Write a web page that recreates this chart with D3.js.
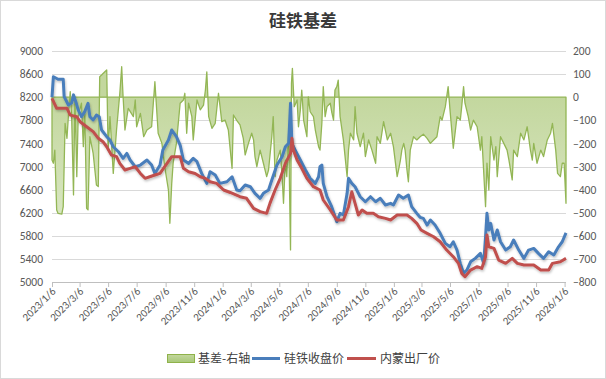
<!DOCTYPE html>
<html><head><meta charset="utf-8">
<script src="https://cdn.jsdelivr.net/npm/d3@7"></script>
<style>body{margin:0;background:#fff}svg{display:block}</style>
</head><body><svg id="c" width="606" height="379"></svg>
<script>
const title = "硅铁基差";
const seriesNames = ["基差-右轴", "硅铁收盘价", "内蒙出厂价"];
const leftTicks = [5000,5400,5800,6200,6600,7000,7400,7800,8200,8600,9000];
const rightTicks = [-800,-700,-600,-500,-400,-300,-200,-100,0,100,200];
const xTickLabels = ["2023/1/6","2023/3/6","2023/5/6","2023/7/6","2023/9/6","2023/11/6","2024/1/6","2024/3/6","2024/5/6","2024/7/6","2024/9/6","2024/11/6","2025/1/6","2025/3/6","2025/5/6","2025/7/6","2025/9/6","2025/11/6","2026/1/6"];

const closePrice = [["2023-01-06",8200],["2023-01-09",8555],["2023-01-19",8510],["2023-01-30",8510],["2023-02-01",8210],["2023-02-10",8065],["2023-02-17",8100],["2023-02-21",8240],["2023-02-27",8094],["2023-03-03",7980],["2023-03-10",7862],["2023-03-17",7950],["2023-03-24",8094],["2023-03-28",7862],["2023-04-04",7805],["2023-04-11",7890],["2023-04-17",7860],["2023-04-22",7632],["2023-05-03",7516],["2023-05-10",7458],["2023-05-17",7342],["2023-05-28",7256],["2023-06-07",7141],["2023-06-15",7228],["2023-06-22",7112],["2023-07-03",6996],["2023-07-14",7025],["2023-07-28",7112],["2023-08-07",7025],["2023-08-14",6880],["2023-08-25",7025],["2023-08-31",7285],["2023-09-12",7458],["2023-09-19",7632],["2023-09-29",7516],["2023-10-07",7372],["2023-10-14",7112],["2023-10-25",7054],["2023-11-04",7141],["2023-11-12",7083],["2023-11-22",6880],["2023-12-03",6708],["2023-12-10",6910],["2023-12-21",6852],["2023-12-31",6708],["2024-01-15",6736],["2024-01-26",6823],["2024-02-05",6593],["2024-02-12",6580],["2024-02-23",6679],["2024-03-05",6650],["2024-03-15",6535],["2024-03-26",6449],["2024-04-02",6535],["2024-04-13",6593],["2024-04-20",6766],["2024-05-01",7025],["2024-05-12",7170],["2024-05-19",7342],["2024-05-26",7401],["2024-05-30",8094],["2024-06-02",7401],["2024-06-09",7285],["2024-06-20",7112],["2024-07-01",6939],["2024-07-11",6795],["2024-07-22",6708],["2024-07-29",6823],["2024-08-01",6996],["2024-08-05",7025],["2024-08-08",6708],["2024-08-16",6477],["2024-08-26",6304],["2024-09-06",6044],["2024-09-13",6189],["2024-09-20",6160],["2024-09-28",6535],["2024-10-01",6795],["2024-10-08",6708],["2024-10-15",6650],["2024-10-26",6477],["2024-11-06",6390],["2024-11-17",6477],["2024-11-28",6390],["2024-12-08",6449],["2024-12-19",6333],["2024-12-30",6362],["2025-01-05",6333],["2025-01-16",6506],["2025-01-26",6449],["2025-02-06",6506],["2025-02-13",6304],["2025-02-24",6189],["2025-03-03",6120],["2025-03-10",6102],["2025-03-18",5986],["2025-03-25",6073],["2025-04-04",5986],["2025-04-15",5843],["2025-04-26",5669],["2025-05-06",5610],["2025-05-13",5697],["2025-05-21",5553],["2025-05-28",5323],["2025-06-04",5150],["2025-06-11",5207],["2025-06-19",5350],["2025-06-29",5409],["2025-07-10",5496],["2025-07-17",5323],["2025-07-21",5784],["2025-07-24",6189],["2025-07-28",5900],["2025-08-01",6016],["2025-08-08",5727],["2025-08-15",5900],["2025-08-22",5697],["2025-09-02",5553],["2025-09-12",5610],["2025-09-19",5727],["2025-09-30",5553],["2025-10-11",5409],["2025-10-21",5553],["2025-11-01",5582],["2025-11-11",5496],["2025-11-22",5409],["2025-12-03",5524],["2025-12-14",5467],["2025-12-24",5610],["2026-01-01",5697],["2026-01-09",5850]];

const factoryPrice = [["2023-01-06",8180],["2023-01-16",8007],["2023-02-07",8007],["2023-02-14",7890],["2023-02-28",7862],["2023-03-07",7776],["2023-03-21",7689],["2023-04-04",7603],["2023-04-15",7488],["2023-04-25",7429],["2023-05-03",7342],["2023-05-13",7199],["2023-05-24",7170],["2023-05-31",7054],["2023-06-11",6939],["2023-06-22",6968],["2023-07-03",6996],["2023-07-14",6880],["2023-07-24",6795],["2023-08-03",6823],["2023-08-14",6852],["2023-08-25",6880],["2023-09-04",6996],["2023-09-19",7170],["2023-10-07",7170],["2023-10-14",6968],["2023-10-25",6910],["2023-11-08",6880],["2023-11-19",6823],["2023-11-30",6795],["2023-12-10",6736],["2023-12-24",6708],["2024-01-08",6593],["2024-01-22",6550],["2024-02-12",6477],["2024-02-26",6449],["2024-03-12",6276],["2024-03-26",6218],["2024-04-09",6189],["2024-04-16",6362],["2024-04-27",6593],["2024-05-08",6795],["2024-05-19",7054],["2024-05-30",7228],["2024-06-02",7488],["2024-06-05",7285],["2024-06-13",7112],["2024-06-23",6968],["2024-07-04",6795],["2024-07-18",6650],["2024-08-01",6593],["2024-08-08",6420],["2024-08-23",6247],["2024-09-06",6073],["2024-09-20",6073],["2024-10-01",6304],["2024-10-08",6563],["2024-10-15",6362],["2024-10-22",6160],["2024-10-30",6247],["2024-11-09",6189],["2024-11-23",6189],["2024-12-04",6131],["2024-12-19",6102],["2024-12-30",6073],["2025-01-13",6160],["2025-02-03",6160],["2025-02-13",6102],["2025-02-24",6016],["2025-03-05",5900],["2025-03-18",5843],["2025-04-01",5784],["2025-04-15",5697],["2025-04-29",5553],["2025-05-13",5438],["2025-05-24",5323],["2025-05-31",5150],["2025-06-07",5091],["2025-06-19",5207],["2025-07-03",5265],["2025-07-13",5236],["2025-07-21",5438],["2025-07-24",5813],["2025-07-28",5610],["2025-08-08",5582],["2025-08-18",5380],["2025-09-02",5323],["2025-09-16",5409],["2025-09-27",5323],["2025-10-11",5294],["2025-11-01",5294],["2025-11-16",5207],["2025-12-03",5207],["2025-12-11",5323],["2025-12-28",5352],["2026-01-09",5409]];

const basis = [["2023-01-06",-272],["2023-01-09",-286],["2023-01-12",-229],["2023-01-16",-488],["2023-01-19",-503],["2023-01-27",-506],["2023-01-30",-474],["2023-02-03",-113],["2023-02-07",-178],["2023-02-10",-84],["2023-02-14",24],["2023-02-17",-84],["2023-02-21",-423],["2023-02-24",2],["2023-02-28",-344],["2023-03-03",-84],["2023-03-10",-26],["2023-03-14",-214],["2023-03-17",-55],["2023-03-21",-481],["2023-03-24",-488],["2023-03-28",-171],["2023-04-04",-243],["2023-04-11",-380],["2023-04-15",-387],["2023-04-18",89],["2023-04-22",96],["2023-04-29",110],["2023-05-03",118],["2023-05-06",-229],["2023-05-10",-84],["2023-05-17",-330],["2023-05-24",-142],["2023-05-31",17],["2023-06-04",132],["2023-06-07",2],["2023-06-11",-142],["2023-06-18",-48],["2023-06-29",-84],["2023-07-03",-12],["2023-07-06",-128],["2023-07-14",-70],["2023-07-21",-171],["2023-07-28",-142],["2023-08-07",-128],["2023-08-14",67],["2023-08-21",-156],["2023-08-29",-200],["2023-09-04",-301],["2023-09-12",-402],["2023-09-15",-546],["2023-09-19",-373],["2023-09-22",-286],["2023-09-29",-200],["2023-10-07",-26],["2023-10-14",-12],["2023-10-17",17],["2023-10-21",-156],["2023-10-25",-26],["2023-11-01",-84],["2023-11-04",-185],["2023-11-12",-12],["2023-11-19",-55],["2023-11-26",-34],["2023-11-30",31],["2023-12-03",110],["2023-12-07",-84],["2023-12-14",-135],["2023-12-21",-113],["2023-12-28",17],["2024-01-04",-106],["2024-01-11",-99],["2024-01-18",-142],["2024-01-26",-308],["2024-01-29",-77],["2024-02-05",-100],["2024-02-12",-120],["2024-02-19",-178],["2024-02-23",-250],["2024-03-01",-200],["2024-03-08",-156],["2024-03-12",-185],["2024-03-15",-257],["2024-03-19",-301],["2024-03-26",-229],["2024-04-02",-286],["2024-04-09",-344],["2024-04-13",-315],["2024-04-20",-171],["2024-04-23",-84],["2024-04-27",-344],["2024-05-01",-272],["2024-05-08",-229],["2024-05-12",-344],["2024-05-15",-459],["2024-05-19",-272],["2024-05-22",-344],["2024-05-26",-156],["2024-05-30",-661],["2024-06-01",60],["2024-06-03",125],["2024-06-07",-41],["2024-06-13",-12],["2024-06-16",-128],["2024-06-20",-55],["2024-06-23",31],["2024-06-27",-99],["2024-07-04",-171],["2024-07-07",2],["2024-07-11",-63],["2024-07-18",-84],["2024-07-22",-142],["2024-07-29",-214],["2024-08-01",-229],["2024-08-05",-113],["2024-08-08",46],["2024-08-12",-84],["2024-08-16",-41],["2024-08-23",-26],["2024-08-26",-63],["2024-08-30",-99],["2024-09-02",31],["2024-09-06",46],["2024-09-09",74],["2024-09-13",-84],["2024-09-20",-185],["2024-09-28",-344],["2024-10-01",-229],["2024-10-05",-156],["2024-10-12",-185],["2024-10-15",-41],["2024-10-19",-156],["2024-10-26",-214],["2024-11-02",-156],["2024-11-06",-257],["2024-11-13",-185],["2024-11-20",-229],["2024-11-28",-286],["2024-12-01",-171],["2024-12-08",-200],["2024-12-15",-106],["2024-12-23",-185],["2024-12-30",-156],["2025-01-05",-214],["2025-01-13",-344],["2025-01-16",-315],["2025-01-20",-272],["2025-01-23",-229],["2025-01-27",-200],["2025-01-30",-229],["2025-02-03",-315],["2025-02-06",-366],["2025-02-10",-229],["2025-02-17",-171],["2025-02-24",-185],["2025-03-03",-171],["2025-03-10",-160],["2025-03-18",-178],["2025-03-25",-200],["2025-04-01",-185],["2025-04-08",-171],["2025-04-15",-84],["2025-04-19",-99],["2025-04-26",-41],["2025-05-02",46],["2025-05-06",-55],["2025-05-13",-221],["2025-05-21",-84],["2025-05-28",-99],["2025-05-31",-41],["2025-06-04",46],["2025-06-07",-26],["2025-06-14",-84],["2025-06-19",-142],["2025-06-25",-99],["2025-07-03",-128],["2025-07-10",-229],["2025-07-13",-171],["2025-07-21",-474],["2025-07-24",-286],["2025-07-28",-402],["2025-08-01",-171],["2025-08-08",-272],["2025-08-12",-214],["2025-08-15",-344],["2025-08-22",-171],["2025-08-29",-200],["2025-09-05",-229],["2025-09-09",-272],["2025-09-16",-358],["2025-09-19",-229],["2025-09-27",-257],["2025-10-04",-156],["2025-10-11",-185],["2025-10-18",-128],["2025-10-25",-229],["2025-10-29",-272],["2025-11-01",-200],["2025-11-08",-286],["2025-11-16",-229],["2025-11-22",-257],["2025-11-30",-185],["2025-12-07",-156],["2025-12-11",-113],["2025-12-18",-229],["2025-12-22",-330],["2025-12-28",-344],["2026-01-01",-286],["2026-01-05",-286],["2026-01-09",-459]];

const parse = d3.timeParse("%Y-%m-%d");
const parseTick = d3.timeParse("%Y/%m/%d");
const toObj = arr => arr.map(d => ({date: parse(d[0]), v: d[1]}));
const closeD = toObj(closePrice), factD = toObj(factoryPrice), basisD = toObj(basis);

const svg = d3.select("#c");
const W = 606, H = 379;
const plot = {l: 52, r: 566, t: 51, b: 282};

svg.append("rect").attr("x",0.5).attr("y",0.5).attr("width",W-1).attr("height",H-1)
  .attr("fill","#fff").attr("stroke","#d9d9d9");

const defs = svg.append("defs");
const grad = defs.append("linearGradient").attr("id","gfill").attr("gradientUnits","userSpaceOnUse")
  .attr("x1",0).attr("x2",0).attr("y1",97).attr("y2",282);
grad.append("stop").attr("offset","0").attr("stop-color","#c3d79e");
grad.append("stop").attr("offset","1").attr("stop-color","#e4eed4");
const lgrad = defs.append("linearGradient").attr("id","lfill").attr("x1",0).attr("x2",0).attr("y1",0).attr("y2",1);
lgrad.append("stop").attr("offset","0").attr("stop-color","#c3d79e");
lgrad.append("stop").attr("offset","1").attr("stop-color","#a8c878");
const sh = defs.append("filter").attr("id","shadow").attr("x","-5%").attr("y","-5%").attr("width","110%").attr("height","115%");
sh.append("feDropShadow").attr("dx",0.8).attr("dy",1.6).attr("stdDeviation",1.2).attr("flood-color","#000").attr("flood-opacity",0.25);

const allDates = closeD.concat(factD, basisD).map(d => d.date);
const x = d3.scaleTime().domain(d3.extent(allDates)).range([plot.l, plot.r]);
const yL = d3.scaleLinear().domain([5000, 9000]).range([plot.b, plot.t]);
const yR = d3.scaleLinear().domain([-800, 200]).range([plot.b, plot.t]);

// title
svg.append("text").attr("x",303).attr("y",27).attr("text-anchor","middle")
  .attr("font-family","'Noto Sans CJK SC', sans-serif").attr("font-size",17).attr("font-weight","bold")
  .attr("fill","#3a3a3a").text(title);

// gridlines
svg.append("g").selectAll("line").data(leftTicks).join("line")
  .attr("x1",plot.l).attr("x2",plot.r).attr("y1",d=>Math.round(yL(d))+0.5).attr("y2",d=>Math.round(yL(d))+0.5)
  .attr("stroke","#d9d9d9").attr("stroke-width",1);

// axis labels
const axisFont = "Carlito, Calibri, Lato, 'Liberation Sans', sans-serif";
const gl = svg.append("g").attr("transform",`translate(${plot.l-9},0)`)
  .call(d3.axisLeft(yL).tickValues(leftTicks).tickSize(0).tickPadding(0).tickFormat(d3.format("d")));
gl.select(".domain").remove();
gl.selectAll("text").attr("font-family",axisFont).attr("font-size",11.5).attr("fill","#595959");

const gr = svg.append("g").attr("transform",`translate(${plot.r+7},0)`)
  .call(d3.axisRight(yR).tickValues(rightTicks).tickSize(0).tickPadding(0).tickFormat(d3.format("d")));
gr.select(".domain").remove();
gr.selectAll("text").attr("font-family",axisFont).attr("font-size",11.5).attr("fill","#595959");

// basis area
const area = d3.area().x(d=>x(d.date)).y0(yR(0)).y1(d=>yR(d.v));
svg.append("path").datum(basisD).attr("d",d => area(d) + "Z")
  .attr("fill","url(#gfill)").attr("stroke","#93b655").attr("stroke-width",1.3).attr("stroke-linejoin","round");

// x axis
const xTicks = xTickLabels.map(parseTick);
const gx = svg.append("g").attr("transform",`translate(0,${plot.b})`)
  .call(d3.axisBottom(x).tickValues(xTicks).tickSize(5).tickFormat((d,i)=>xTickLabels[i]));
gx.select(".domain").attr("stroke","#bfbfbf").attr("d",`M${plot.l},0.5H${plot.r}`);
gx.selectAll(".tick line").attr("stroke","#bfbfbf");
gx.selectAll("text").attr("font-family",axisFont).attr("font-size",11).attr("fill","#595959")
  .attr("text-anchor","end").attr("dy",0).attr("y",0)
  .attr("transform","translate(4,10) rotate(-45)");

// price lines
const line = d3.line().x(d=>x(d.date)).y(d=>yL(d.v));
svg.append("path").datum(closeD).attr("d",line).attr("fill","none").attr("stroke","#4a7ebb")
  .attr("stroke-width",3).attr("stroke-linejoin","round").attr("filter","url(#shadow)");
svg.append("path").datum(factD).attr("d",line).attr("fill","none").attr("stroke","#c0504d")
  .attr("stroke-width",3).attr("stroke-linejoin","round").attr("filter","url(#shadow)");

// legend
const lg = svg.append("g").attr("font-family","'Noto Sans CJK SC', sans-serif").attr("font-size",12).attr("fill","#404040");
lg.append("rect").attr("x",167.5).attr("y",354.5).attr("width",27).attr("height",8)
  .attr("fill","url(#lfill)").attr("stroke","#8fb24a");
lg.append("text").attr("x",198).attr("y",363).text(seriesNames[0]);
lg.append("line").attr("x1",252).attr("x2",280).attr("y1",358.5).attr("y2",358.5).attr("stroke","#4a7ebb").attr("stroke-width",3);
lg.append("text").attr("x",284).attr("y",363).text(seriesNames[1]);
lg.append("line").attr("x1",347).attr("x2",376).attr("y1",358.5).attr("y2",358.5).attr("stroke","#c0504d").attr("stroke-width",3);
lg.append("text").attr("x",380).attr("y",363).text(seriesNames[2]);
</script></body></html>
